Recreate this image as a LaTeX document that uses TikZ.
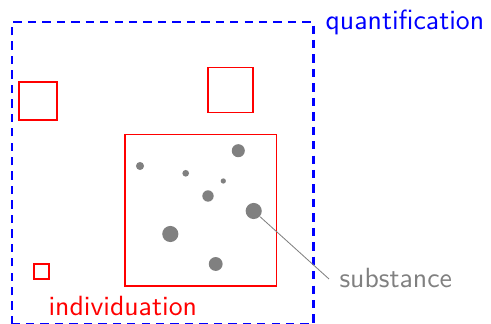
\documentclass[tikz,border=0pt]{standalone}
\begin{document}
\begin{tikzpicture}[x=0.36pt,y=-0.36pt,
  rbox/.style={draw=red,line width=0.4pt,inner sep=0pt,minimum size=#1},
  dot/.style={circle,fill=gray,inner sep=0pt,minimum size=#1},
  lbl/.style={inner sep=0pt,font=\sffamily},
  qbox/.style={draw=blue,line width=0.8pt,dash pattern=on 3pt off 2.2pt}]
\useasboundingbox (0,0) rectangle (491,324);
\draw[qbox] (12,324.2) rectangle (313.5,22.3);
\node[rbox=13.7pt] (s1) at (38,101) {};
\node[rbox=16.2pt] (s2) at (230.5,90) {};
\node[rbox=54.4pt] (big) at (200.5,210.5) {};
\node[rbox=5.4pt] (s4) at (41.5,271.5) {};
\node[dot=2.9pt] (d1) at (140,166) {};
\node[dot=2.4pt] (d2) at (185.7,173.3) {};
\node[dot=4.7pt] (d3) at (238.3,150.7) {};
\node[dot=1.9pt] (d4) at (223.3,181) {};
\node[dot=4.1pt] (d5) at (208,196) {};
\node[dot=5.8pt] (d6) at (253.7,211) {};
\node[dot=5.8pt] (d7) at (170.3,234) {};
\node[dot=5.0pt] (d8) at (215.7,264) {};
\node[lbl,text=blue,anchor=base west] (q) at (325,30) {quantification};
\node[lbl,text=red,anchor=base west] (ind) at (48,316) {individuation};
\node[lbl,text=gray,anchor=base west] (sub) at (339,288) {substance};
\coordinate (se) at (329,279);
\draw[gray,line width=0.3pt] (d6) -- (se);
\end{tikzpicture}
\end{document}
